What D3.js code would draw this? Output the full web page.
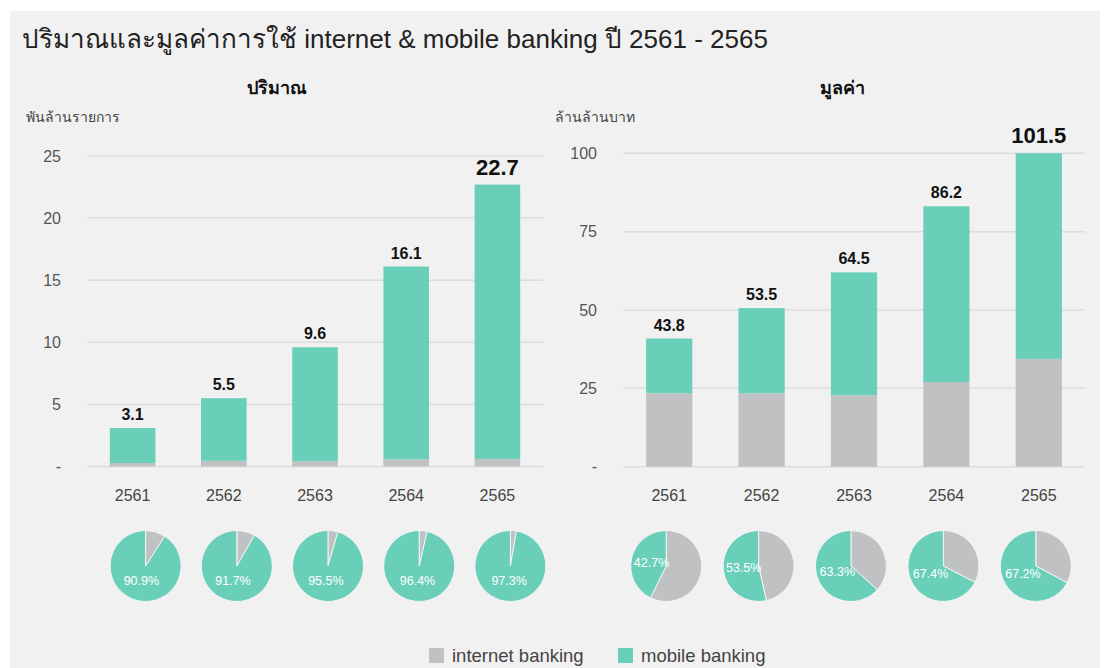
<!DOCTYPE html>
<html lang="th">
<head>
    <meta charset="UTF-8">
    <title>ปริมาณและมูลค่าการใช้ internet & mobile banking</title>
    <script src="https://d3js.org/d3.v7.min.js"></script>
    <style>
        body {
            margin: 0;
            background: #fff;
            font-family: "Helvetica Neue", Arial, "Liberation Sans", sans-serif;
        }
        .grid line { stroke: #dcdcdc; stroke-width: 1.5; }
        .tick-label { fill: #555; font-size: 16px; }
        .year-label { fill: #444; font-size: 16px; }
        .bar-label { fill: #111; font-weight: bold; font-size: 16px; }
        .pie-label { fill: #fff; font-size: 12.5px; }
    </style>
</head>
<body>
<svg id="chart" width="1104" height="668"></svg>
<script>
    const years = ["2561", "2562", "2563", "2564", "2565"];

    // ปริมาณ (พันล้านรายการ)
    const volInternet = [0.28, 0.46, 0.43, 0.58, 0.61];
    const volMobile = [2.82, 5.04, 9.17, 15.52, 22.09];
    const volLabels = ["3.1", "5.5", "9.6", "16.1", "22.7"];
    const volTicks = [0, 5, 10, 15, 20, 25];
    const volShare = [90.9, 91.7, 95.5, 96.4, 97.3];

    // มูลค่า (ล้านล้านบาท)
    const valInternet = [23.4, 23.4, 22.8, 27.0, 34.4];
    const valMobile = [17.5, 27.2, 39.2, 56.1, 65.6];
    const valLabels = ["43.8", "53.5", "64.5", "86.2", "101.5"];
    const valTicks = [0, 25, 50, 75, 100];
    const valShare = [42.7, 53.5, 63.3, 67.4, 67.2];

    const colors = { internet: "#c0c1c3", mobile: "#6acfb9" };

    const svg = d3.select("#chart");

    svg.append("rect")
        .attr("x", 10).attr("y", 11)
        .attr("width", 1090).attr("height", 657)
        .attr("fill", "#f1f1f1");

    svg.append("text")
        .attr("x", 22).attr("y", 48)
        .attr("font-size", 26)
        .attr("fill", "#222")
        .text("ปริมาณและมูลค่าการใช้ internet & mobile banking ปี 2561 - 2565");

    function drawPanel(opts) {
        const x = d3.scaleBand()
            .domain(years)
            .range(opts.xRange)
            .paddingInner(0.5)
            .paddingOuter(0.25);

        const y = d3.scaleLinear()
            .domain([0, d3.max(opts.ticks)])
            .range(opts.yRange);

        const g = svg.append("g");

        g.append("text")
            .attr("x", opts.titleX).attr("y", 94)
            .attr("text-anchor", "middle")
            .attr("font-size", 18).attr("font-weight", "bold")
            .attr("fill", "#111")
            .text(opts.title);

        g.append("text")
            .attr("x", opts.unitX).attr("y", 122)
            .attr("font-size", 14).attr("fill", "#444")
            .text(opts.unit);

        g.append("g").attr("class", "grid")
            .selectAll("line")
            .data(opts.ticks)
            .join("line")
            .attr("x1", opts.xRange[0]).attr("x2", opts.xRange[1])
            .attr("y1", d => y(d)).attr("y2", d => y(d));

        g.append("g")
            .selectAll("text")
            .data(opts.ticks)
            .join("text")
            .attr("class", "tick-label")
            .attr("x", opts.tickX)
            .attr("y", d => y(d))
            .attr("dy", "0.35em")
            .attr("text-anchor", "end")
            .text(d => d === 0 ? "-" : d);

        const stacked = years.map((yr, i) => ({
            year: yr,
            internet: opts.internet[i],
            mobile: opts.mobile[i]
        }));
        const series = d3.stack().keys(["internet", "mobile"])(stacked);

        g.append("g")
            .selectAll("g")
            .data(series)
            .join("g")
            .attr("fill", d => colors[d.key])
            .selectAll("rect")
            .data(d => d)
            .join("rect")
            .attr("x", d => x(d.data.year))
            .attr("y", d => y(d[1]))
            .attr("width", x.bandwidth())
            .attr("height", d => y(d[0]) - y(d[1]));

        const last = years.length - 1;
        g.append("g")
            .selectAll("text")
            .data(stacked)
            .join("text")
            .attr("class", "bar-label")
            .attr("x", d => x(d.year) + x.bandwidth() / 2)
            .attr("y", (d, i) => y(d.internet + d.mobile) - (i === last ? 10 : 8))
            .attr("text-anchor", "middle")
            .style("font-size", (d, i) => i === last ? "22px" : "16px")
            .text((d, i) => opts.labels[i]);

        g.append("g")
            .selectAll("text")
            .data(years)
            .join("text")
            .attr("class", "year-label")
            .attr("x", d => x(d) + x.bandwidth() / 2)
            .attr("y", 501)
            .attr("text-anchor", "middle")
            .text(d => d);

        // pies: internet share first, starting at 12 o'clock clockwise
        const r = 35.5;
        const pie = d3.pie().sort(null).value(d => d.v);
        const arc = d3.arc().innerRadius(0).outerRadius(r);
        const labelArc = d3.arc().innerRadius(15).outerRadius(15);

        years.forEach((yr, i) => {
            const slices = pie([
                { key: "internet", v: 100 - opts.share[i] },
                { key: "mobile", v: opts.share[i] }
            ]);
            const pg = g.append("g")
                .attr("transform", `translate(${x(yr) + x.bandwidth() / 2 + opts.pieDx}, 566)`);
            pg.selectAll("path")
                .data(slices)
                .join("path")
                .attr("d", arc)
                .attr("fill", d => colors[d.data.key])
                .attr("stroke", "#f4f4f4")
                .attr("stroke-width", 1);
            const m = slices[1];
            const c = labelArc.centroid(m);
            pg.append("text")
                .attr("class", "pie-label")
                .attr("x", c[0]).attr("y", c[1])
                .attr("dy", "0.35em")
                .attr("text-anchor", "middle")
                .text(opts.share[i].toFixed(1) + "%");
        });
    }

    drawPanel({
        title: "ปริมาณ", titleX: 277,
        unit: "พันล้านรายการ", unitX: 26,
        xRange: [87, 543], yRange: [466.5, 156],
        tickX: 61,
        ticks: volTicks,
        internet: volInternet, mobile: volMobile,
        labels: volLabels, share: volShare,
        pieDx: 13
    });

    drawPanel({
        title: "มูลค่า", titleX: 842,
        unit: "ล้านล้านบาท", unitX: 555,
        xRange: [623, 1085], yRange: [466.7, 153.3],
        tickX: 597,
        ticks: valTicks,
        internet: valInternet, mobile: valMobile,
        labels: valLabels, share: valShare,
        pieDx: -3
    });

    // legend
    const legend = svg.append("g").attr("transform", "translate(429, 648)");
    const items = [
        { key: "internet", label: "internet banking", x: 0 },
        { key: "mobile", label: "mobile banking", x: 189 }
    ];
    legend.selectAll("rect")
        .data(items)
        .join("rect")
        .attr("x", d => d.x).attr("y", 0)
        .attr("width", 15).attr("height", 15)
        .attr("fill", d => colors[d.key]);
    legend.selectAll("text")
        .data(items)
        .join("text")
        .attr("x", d => d.x + 23).attr("y", 14)
        .attr("font-size", 18.5).attr("fill", "#444")
        .text(d => d.label);
</script>
</body>
</html>
